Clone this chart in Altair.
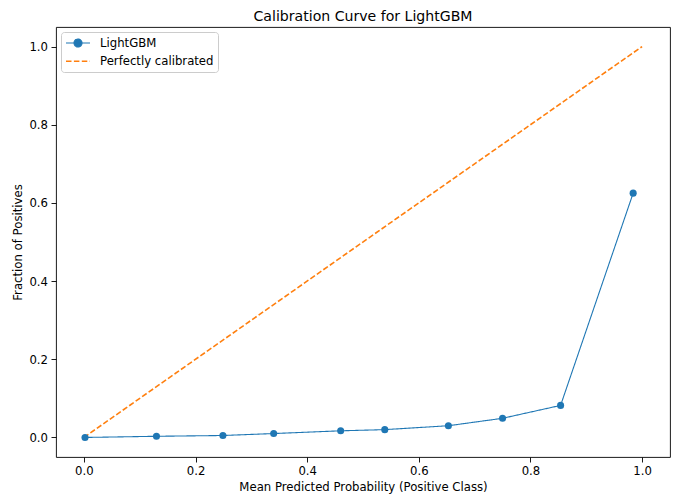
import altair as alt
import pandas as pd

# ---- data ----
series_names = ["LightGBM", "Perfectly calibrated"]
series_colors = ["#1f77b4", "#ff7f0e"]

mean_predicted = [0.002, 0.130, 0.249, 0.340, 0.460, 0.539, 0.653, 0.750, 0.854, 0.984]
fraction_positives = [0.000, 0.003, 0.005, 0.010, 0.017, 0.020, 0.030, 0.049, 0.082, 0.625]

diag_x = [0.0, 1.0]
diag_y = [0.0, 1.0]

x_ticks = [0.0, 0.2, 0.4, 0.6, 0.8, 1.0]
y_ticks = [0.0, 0.2, 0.4, 0.6, 0.8, 1.0]

# ---- tables ----
df_curve = pd.DataFrame({"x": mean_predicted, "y": fraction_positives, "series": series_names[0]})
df_diag = pd.DataFrame({"x": diag_x, "y": diag_y, "series": series_names[1]})
df_lines = pd.concat([df_curve, df_diag], ignore_index=True)

FONT = "DejaVu Sans"
FS = 11.7

# legend symbols (unit = 6px at symbolSize 144): line with a dot, and a plain line
sym_line_dot = "M-1,0L3,0M0.333,0A0.667,0.667,0,1,1,1.667,0A0.667,0.667,0,1,1,0.333,0Z"
sym_line = "M-1,0L3,0"

x_enc = alt.X("x:Q", scale=alt.Scale(domain=[-0.05, 1.05], nice=False, zero=False),
              axis=alt.Axis(values=x_ticks, format=".1f",
                            title="Mean Predicted Probability (Positive Class)", titlePadding=4))
y_enc = alt.Y("y:Q", scale=alt.Scale(domain=[-0.05, 1.05], nice=False, zero=False),
              axis=alt.Axis(values=y_ticks, format=".1f", title="Fraction of Positives",
                            titlePadding=5))

legend = alt.Legend(
    orient="top-left", offset=5, padding=4, rowPadding=4.2,
    strokeColor="#cccccc", fillColor="white", cornerRadius=3,
    labelFont=FONT, labelFontSize=FS, labelColor="black", labelOffset=21,
    symbolSize=144, symbolStrokeWidth=1.4, symbolOpacity=1, title=None,
)

color = alt.Color("series:N", scale=alt.Scale(domain=series_names, range=series_colors),
                  legend=legend, title=None)
dash = alt.StrokeDash("series:N", scale=alt.Scale(domain=series_names, range=[[1, 0], [5.5, 2.4]]),
                      legend=legend, title=None)
shape = alt.Shape("series:N", scale=alt.Scale(domain=series_names, range=[sym_line_dot, sym_line]),
                  legend=legend, title=None)
width = alt.StrokeWidth("series:N", scale=alt.Scale(domain=series_names, range=[1.1, 1.6]), legend=None)

lines = alt.Chart(df_lines).mark_line().encode(
    x=x_enc, y=y_enc, color=color, strokeDash=dash, strokeWidth=width
)

# invisible layer that only feeds the legend's symbol shapes
legend_feed = alt.Chart(df_curve).mark_point(filled=True, opacity=0, strokeWidth=0).encode(
    x="x:Q", y="y:Q", color=color, shape=shape
)

points = alt.Chart(df_curve).mark_circle(size=50, opacity=1, color=series_colors[0]).encode(
    x="x:Q", y="y:Q"
)

chart = alt.layer(lines, legend_feed, points).properties(
    width=614, height=430,
    autosize="none",
    padding={"left": 48, "top": 19, "right": 2, "bottom": 39},
    title=alt.TitleParams("Calibration Curve for LightGBM", font=FONT, fontSize=14.1,
                          fontWeight="normal", color="black", anchor="middle", offset=2.8),
).configure_view(
    stroke="black", strokeWidth=0.9
).configure_axis(
    grid=False, domain=False,
    tickColor="black", tickSize=5, tickWidth=0.9,
    labelFont=FONT, labelFontSize=FS, labelColor="black", labelPadding=3.5,
    titleFont=FONT, titleFontSize=FS, titleFontWeight="normal", titleColor="black",
)

chart.save("out.html", embed_options={"renderer": "svg", "actions": False})
